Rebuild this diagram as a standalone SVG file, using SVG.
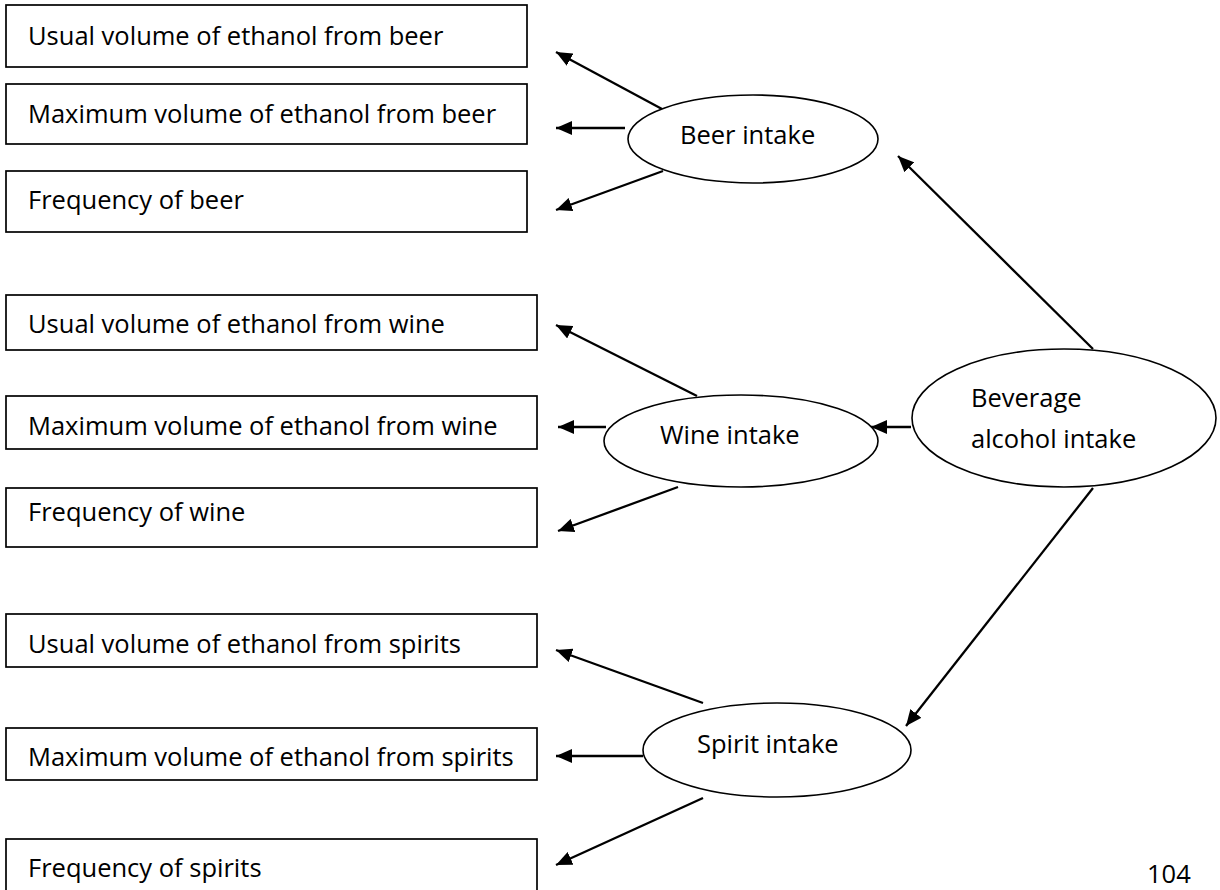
<svg xmlns="http://www.w3.org/2000/svg" width="1220" height="890" viewBox="0 0 1220 890">
<style>
.box{fill:#fff;stroke:#000;stroke-width:1.7}
.ell{fill:#fff;stroke:#000;stroke-width:1.6}
.t{font-family:"Open Sans","Liberation Sans",sans-serif;font-size:25.5px;fill:#000}
.c{stroke:#000;stroke-width:2.3;fill:none;marker-end:url(#ah)}
</style>
<defs>
<marker id="ah" markerUnits="userSpaceOnUse" markerWidth="18" markerHeight="14" refX="16" refY="7" orient="auto">
<path d="M0,0 L16,7 L0,14 z" fill="#000"/>
</marker>
</defs>
<rect width="1220" height="890" fill="#fff"/>
<g id="connectors">
<line class="c" x1="662" y1="109" x2="556" y2="52"/>
<line class="c" x1="625" y1="128" x2="556" y2="128"/>
<line class="c" x1="663" y1="171" x2="556" y2="210"/>
<line class="c" x1="1093" y1="349" x2="898" y2="156"/>
<line class="c" x1="697" y1="396" x2="556" y2="325"/>
<line class="c" x1="606" y1="427" x2="558" y2="427"/>
<line class="c" x1="678" y1="487" x2="558" y2="531"/>
<line class="c" x1="911" y1="427" x2="871" y2="427"/>
<line class="c" x1="1093" y1="488" x2="906" y2="726"/>
<line class="c" x1="703" y1="703" x2="556" y2="650"/>
<line class="c" x1="643" y1="756" x2="556" y2="756"/>
<line class="c" x1="703" y1="798" x2="556" y2="865"/>
</g>
<g id="usual-beer"><rect class="box" x="6" y="5" width="521" height="62"/><text class="t" x="28" y="45">Usual volume of ethanol from beer</text></g>
<g id="max-beer"><rect class="box" x="6" y="84" width="521" height="60"/><text class="t" x="28" y="123">Maximum volume of ethanol from beer</text></g>
<g id="freq-beer"><rect class="box" x="6" y="171" width="521" height="61"/><text class="t" x="28" y="209">Frequency of beer</text></g>
<g id="usual-wine"><rect class="box" x="6" y="295" width="531" height="55"/><text class="t" x="28" y="333">Usual volume of ethanol from wine</text></g>
<g id="max-wine"><rect class="box" x="6" y="396" width="531" height="53"/><text class="t" x="28" y="435">Maximum volume of ethanol from wine</text></g>
<g id="freq-wine"><rect class="box" x="6" y="488" width="531" height="59"/><text class="t" x="28" y="521">Frequency of wine</text></g>
<g id="usual-spirits"><rect class="box" x="6" y="614" width="531" height="53"/><text class="t" x="28" y="653">Usual volume of ethanol from spirits</text></g>
<g id="max-spirits"><rect class="box" x="6" y="728" width="531" height="52"/><text class="t" x="28" y="766">Maximum volume of ethanol from spirits</text></g>
<g id="freq-spirits"><rect class="box" x="6" y="839" width="531" height="60"/><text class="t" x="28" y="877">Frequency of spirits</text></g>
<g id="beer-intake"><ellipse class="ell" cx="753" cy="139" rx="125" ry="44"/><text class="t" x="680" y="144">Beer intake</text></g>
<g id="wine-intake"><ellipse class="ell" cx="741" cy="441" rx="137" ry="46"/><text class="t" x="660" y="444">Wine intake</text></g>
<g id="beverage"><ellipse class="ell" cx="1064" cy="418" rx="152" ry="69"/><text class="t" x="971" y="407">Beverage</text><text class="t" x="971" y="448">alcohol intake</text></g>
<g id="spirit-intake"><ellipse class="ell" cx="777" cy="750" rx="134" ry="47"/><text class="t" x="697" y="753">Spirit intake</text></g>
<text class="t" x="1147" y="883">104</text>
</svg>
